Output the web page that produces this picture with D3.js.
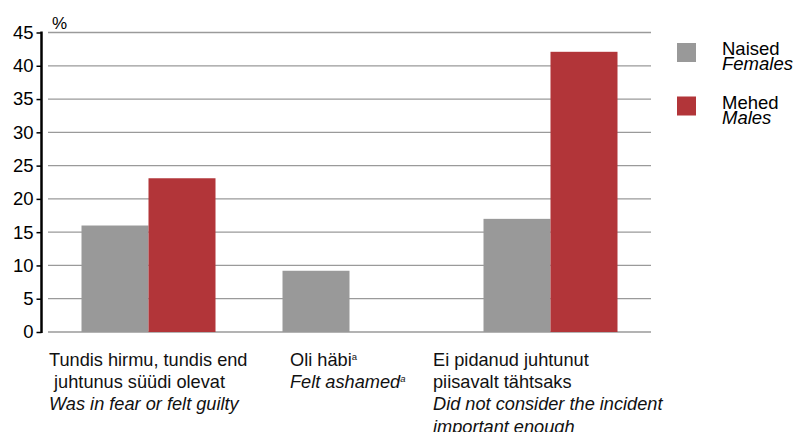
<!DOCTYPE html>
<html>
<head>
<meta charset="utf-8">
<script src="https://cdn.jsdelivr.net/npm/d3@7"></script>
<style>
  body { margin: 0; background: #fff; }
  svg { font-family: "Liberation Sans", Arial, sans-serif; }
</style>
</head>
<body>
<div id="chart"></div>
<script>
// data
var categories = ["fear", "ashamed", "notImportant"];
var females = [16, 9.2, 17];
var males = [23.1, null, 42.1];
var seriesNames = ["Naised", "Mehed"];
var seriesNamesEn = ["Females", "Males"];
var yTicks = [0, 5, 10, 15, 20, 25, 30, 35, 40, 45];
// category label lines: [text, italic, superscript]
var catLabels = [
  [["Tundis hirmu, tundis end", false, ""], [" juhtunus süüdi olevat", false, ""], ["Was in fear or felt guilty", true, ""]],
  [["Oli häbi", false, "a"], ["Felt ashamed", true, "a"]],
  [["Ei pidanud juhtunut", false, ""], ["piisavalt tähtsaks", false, ""], ["Did not consider the incident", true, ""], ["important enough", true, ""]]
];

var W = 793, H = 432;
var colors = ["#999999", "#b23539"];
var labelX = [49, 290, 433];

var svg = d3.select("#chart").append("svg")
    .attr("width", W)
    .attr("height", H);

var x0 = d3.scaleBand()
    .domain(categories)
    .range([48, 651])
    .paddingInner(1/3)
    .paddingOuter(1/6);

var x1 = d3.scaleBand()
    .domain([0, 1])
    .range([0, x0.bandwidth()]);

var y = d3.scaleLinear()
    .domain([0, 45])
    .range([332, 32.5]);

// gridlines
svg.append("g")
  .selectAll("line")
  .data(yTicks)
  .enter().append("line")
    .attr("x1", 48)
    .attr("x2", 651)
    .attr("y1", function(d) { return y(d); })
    .attr("y2", function(d) { return y(d); })
    .attr("stroke", "#9a9a9a")
    .attr("stroke-width", 1.3);

// bars
var rows = categories.map(function(c, i) {
  return [{cat: c, s: 0, v: females[i]}, {cat: c, s: 1, v: males[i]}];
});

svg.append("g")
  .selectAll("g")
  .data(rows)
  .enter().append("g")
    .attr("transform", function(d) { return "translate(" + x0(d[0].cat) + ",0)"; })
  .selectAll("rect")
  .data(function(d) { return d.filter(function(e) { return e.v != null; }); })
  .enter().append("rect")
    .attr("x", function(d) { return x1(d.s); })
    .attr("width", x1.bandwidth())
    .attr("y", function(d) { return y(d.v); })
    .attr("height", function(d) { return y(0) - y(d.v); })
    .attr("fill", function(d) { return colors[d.s]; });

// y axis
var yAxis = d3.axisLeft(y).tickValues(yTicks).tickSize(5).tickPadding(3);
var ga = svg.append("g")
    .attr("transform", "translate(41.5,0)")
    .call(yAxis);
ga.select(".domain").attr("stroke", "#000").attr("stroke-width", 2.5)
  .attr("d", "M0," + (y(45) - 1) + "V" + (y(0) + 1));
ga.selectAll(".tick line").attr("stroke", "#000").attr("stroke-width", 1.5);
ga.selectAll(".tick text")
    .attr("font-size", 18.5)
    .attr("fill", "#000")
    .attr("font-family", "Liberation Sans, Arial, sans-serif");

svg.append("text")
    .attr("x", 52)
    .attr("y", 29)
    .attr("font-size", 17)
    .text("%");

// category labels
categories.forEach(function(c, i) {
  var t = svg.append("text")
      .attr("font-size", 18.2)
      .attr("fill", "#111");
  catLabels[i].forEach(function(line, j) {
    t.append("tspan")
        .attr("x", labelX[i])
        .attr("y", 366 + j * 22.2)
        .attr("font-style", line[1] ? "italic" : "normal")
        .style("white-space", "pre")
        .text(line[0]);
    if (line[2]) {
      t.append("tspan")
          .attr("dy", -6)
          .attr("font-size", 9.5)
          .attr("font-style", line[1] ? "italic" : "normal")
          .text(line[2]);
      t.append("tspan").attr("dy", 6).text("");
    }
  });
});

// legend
var leg = svg.append("g")
  .selectAll("g")
  .data(seriesNames)
  .enter().append("g")
    .attr("transform", function(d, i) { return "translate(677," + (43 + i * 53.5) + ")"; });

leg.append("rect")
    .attr("width", 19)
    .attr("height", 19)
    .attr("fill", function(d, i) { return colors[i]; });

leg.append("text")
    .attr("x", 45)
    .attr("y", 12)
    .attr("font-size", 18.5)
    .text(function(d) { return d; });

leg.append("text")
    .attr("x", 45)
    .attr("y", 27)
    .attr("font-size", 18.5)
    .attr("font-style", "italic")
    .text(function(d, i) { return seriesNamesEn[i]; });
</script>
</body>
</html>
